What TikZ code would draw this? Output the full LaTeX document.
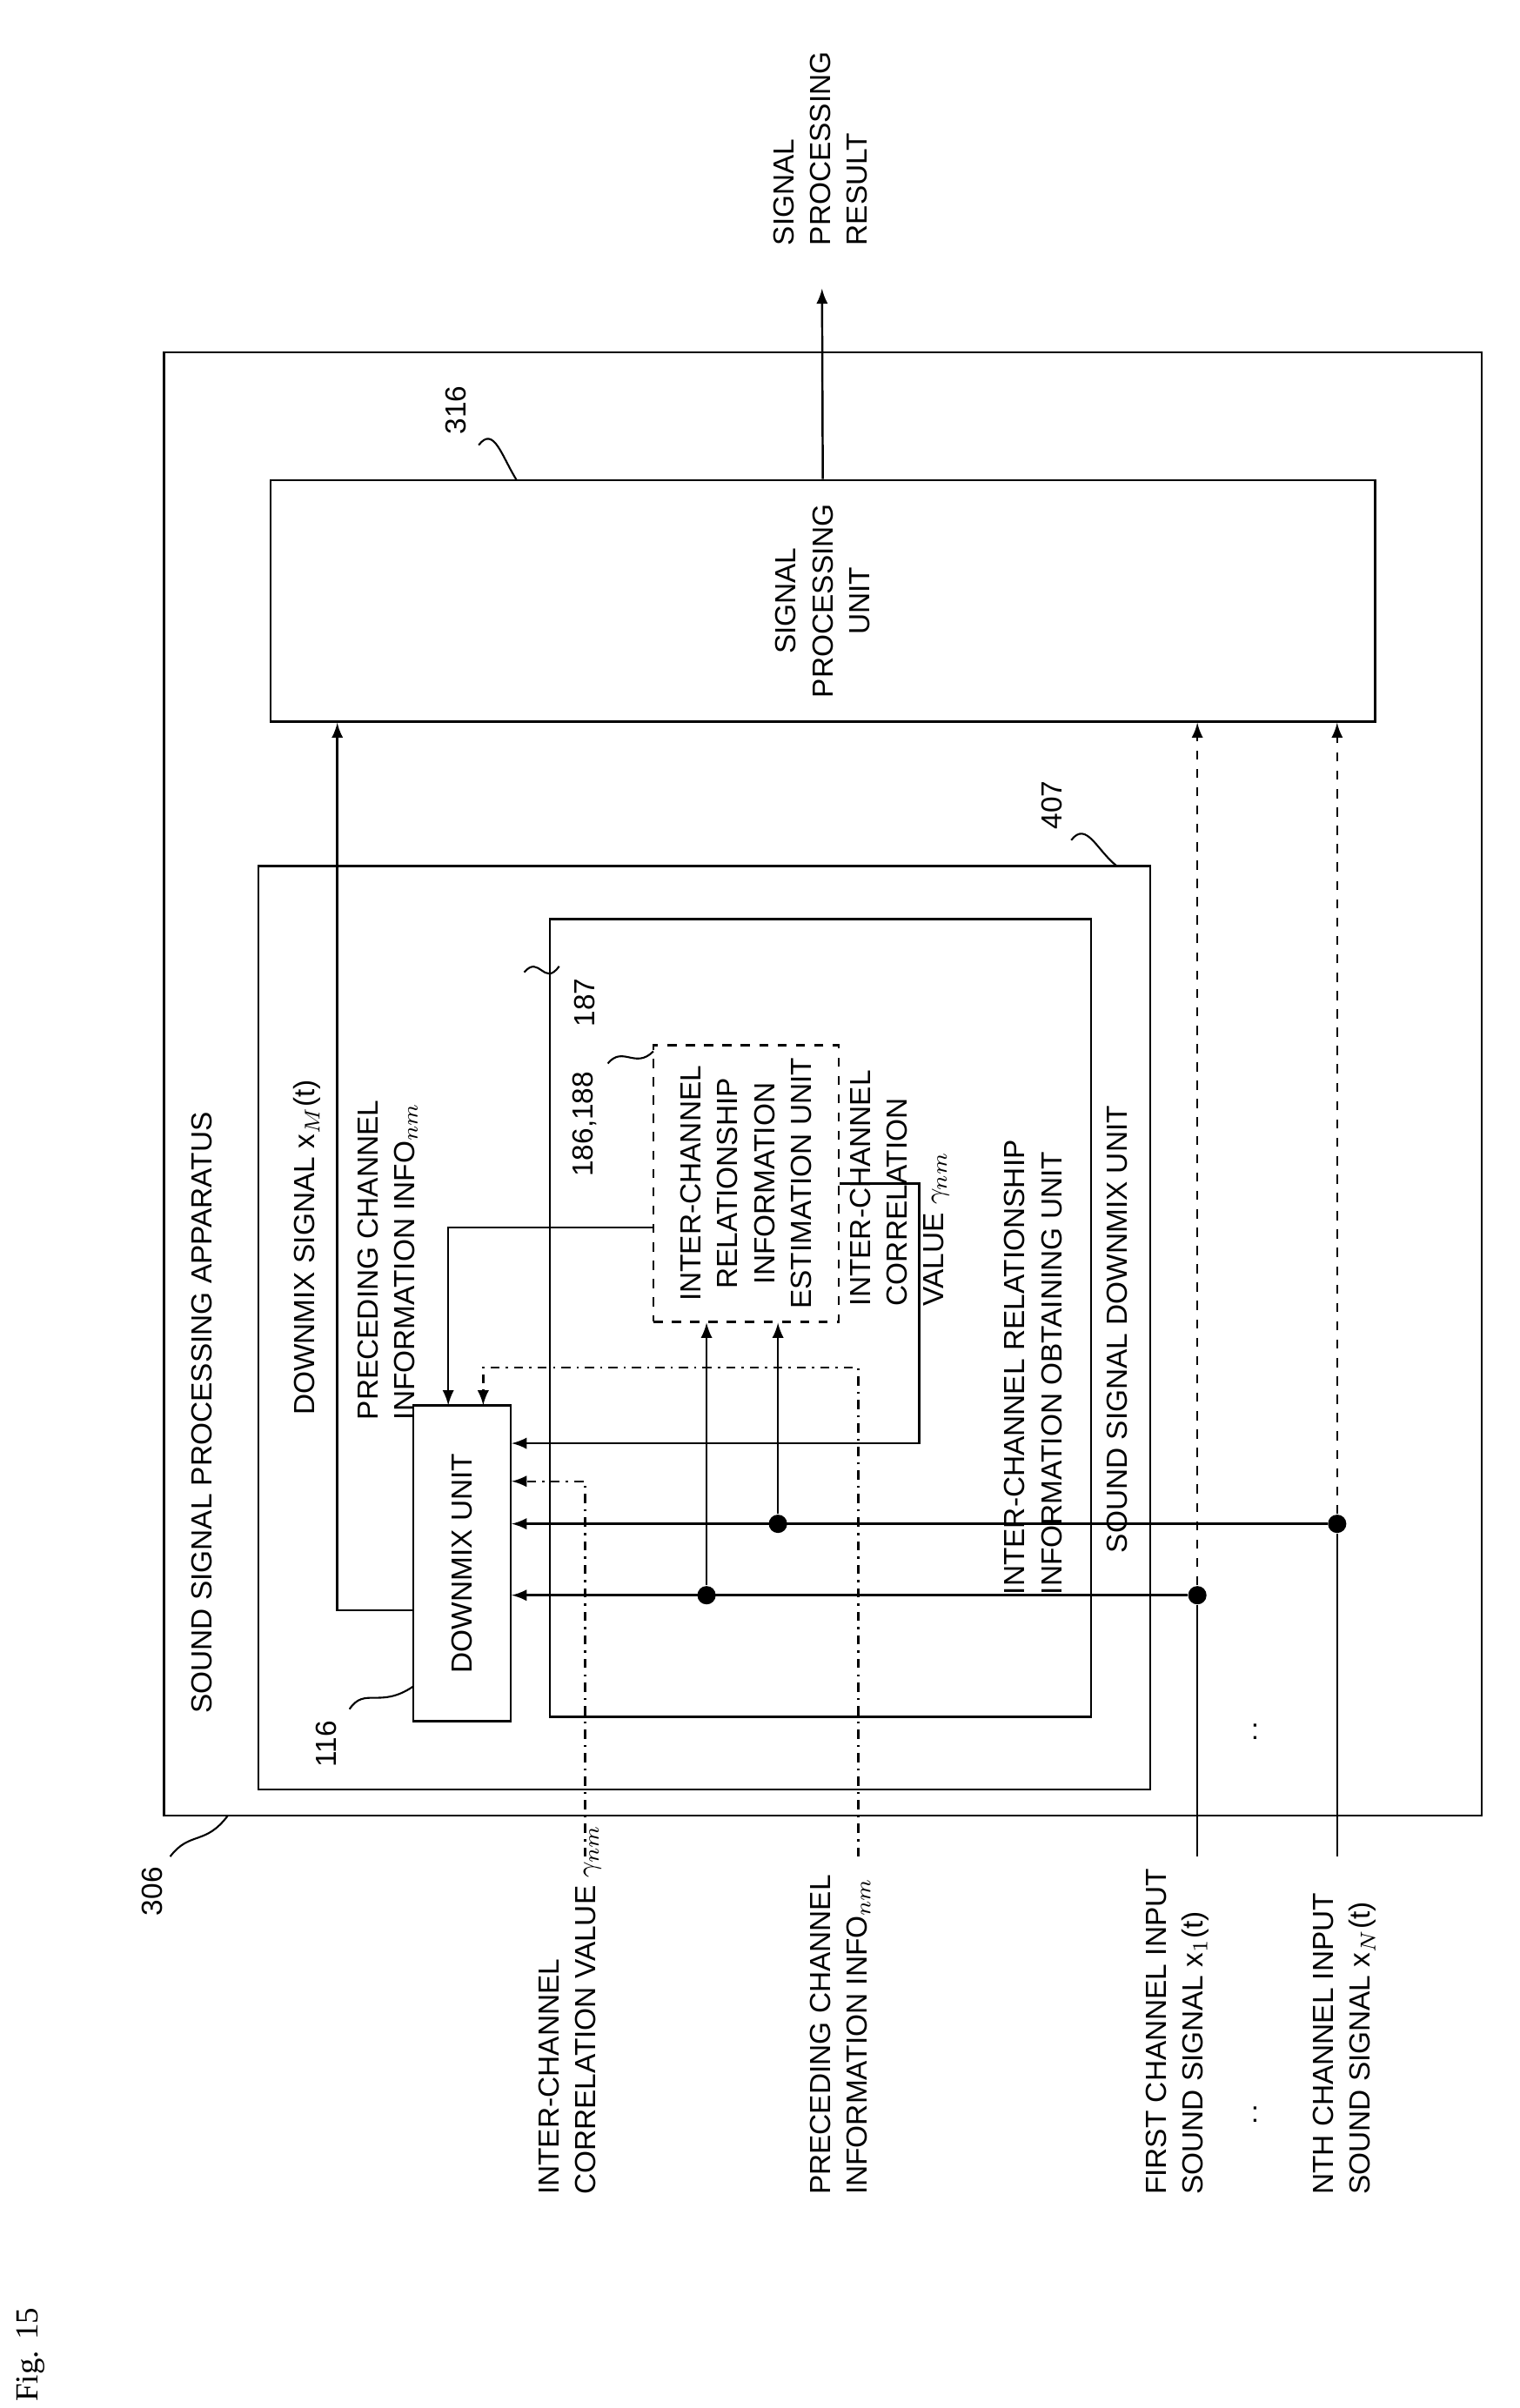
\documentclass[tikz,border=0pt]{standalone}
\usepackage{fontspec}
\setmainfont{Liberation Sans}
\newfontfamily\figfont{Liberation Serif}
\usetikzlibrary{fit}
\begin{document}
\begin{tikzpicture}[x=0.01746cm,y=-0.01746cm,>=latex,
  font=\fontsize{9.5}{12}\selectfont]
\tikzstyle{box}=[draw=black,inner sep=0pt,line width=0.7pt]
\tikzstyle{dbox}=[draw=black,dashed,inner sep=0pt,line width=0.7pt]
\tikzstyle{txt}=[rotate=90,inner sep=0pt,align=left]
\tikzstyle{jdot}=[circle,fill=black,minimum size=6pt,inner sep=0pt]
\tikzstyle{wire}=[line width=0.7pt]
\tikzstyle{lead}=[line width=0.6pt]
\useasboundingbox (0,0) rectangle (1000,1585);

% boxes
\node[box,fit={(108,232)(975,1195)}] (app) {};
\node[box,fit={(170,570)(757,1178)}] (mix) {};
\node[box,fit={(362,605)(718,1130)}] (obt) {};
\node[dbox,fit={(430,688)(552,870)}] (est) {};
\node[box,fit={(272,925)(336,1133)}] (dmx) {};
\node[box,fit={(178,316)(905,475)}] (sp) {};

% box texts
\node[txt,align=center] at (est.center) {INTER-CHANNEL\\RELATIONSHIP\\INFORMATION\\ESTIMATION UNIT};
\node[txt] at (dmx.center) {DOWNMIX UNIT};
\node[txt,align=center] at (sp.center) {SIGNAL\\PROCESSING\\UNIT};
\node[txt] at (133,930) {SOUND SIGNAL PROCESSING APPARATUS};
\node[txt] at (735,875) {SOUND SIGNAL DOWNMIX UNIT};
\node[txt] at (680,900) {INTER-CHANNEL RELATIONSHIP\\INFORMATION OBTAINING UNIT};
\node[txt,anchor=west] at (592,860) {INTER-CHANNEL\\CORRELATION\\VALUE $\gamma_{nm}$};
\node[txt,anchor=west] at (202,932) {DOWNMIX SIGNAL x$_M$(t)};
\node[txt,anchor=west] at (255,935) {PRECEDING CHANNEL\\INFORMATION INFO$_{nm}$};
\node[txt,anchor=west] at (540,162) {SIGNAL\\PROCESSING\\RESULT};

% outside labels
\node[txt,anchor=west] at (375,1445) {INTER-CHANNEL\\CORRELATION VALUE $\gamma_{nm}$};
\node[txt,anchor=west] at (553,1445) {PRECEDING CHANNEL\\INFORMATION INFO$_{nm}$};
\node[txt,anchor=west] at (775,1445) {FIRST CHANNEL INPUT\\SOUND SIGNAL x$_1$(t)};
\node[txt,anchor=west] at (885,1445) {NTH CHANNEL INPUT\\SOUND SIGNAL x$_N$(t)};
\node[inner sep=0pt] (vd1) at (826,1392) {:};
\node[inner sep=0pt] (vd2) at (826,1140) {:};
\node[txt,font=\figfont\fontsize{10.5}{12.5}\selectfont] (fig) at (20,1550) {Fig. 15};

% reference numerals
\node[txt] (n306) at (100,1245) {306};
\node[txt] (n407) at (692,530) {407};
\node[txt] (n316) at (300,270) {316};
\node[txt] (n116) at (215,1148) {116};
\node[txt] (n187) at (385,660) {187};
\node[txt] (n186) at (385,740) {186,188};
\draw[lead] (112,1222) .. controls (125,1205) and (135,1215) .. (150,1195);
\draw[lead] (705,553) .. controls (715,540) and (722,560) .. (735,570);
\draw[lead] (315,293) .. controls (325,280) and (330,300) .. (340,316);
\draw[lead] (230,1125) .. controls (240,1110) and (250,1125) .. (272,1110);
\draw[lead] (345,640) .. controls (355,628) and (358,650) .. (368,636);
\draw[lead] (400,700) .. controls (410,688) and (418,704) .. (430,692);

% junctions and inputs
\coordinate (in1) at (788,1222);
\coordinate (inN) at (880,1222);
\coordinate (inG) at (385,1222);
\coordinate (inP) at (565,1222);
\coordinate (out) at (541,190);
\node[jdot] (j1) at (788,1050) {};
\node[jdot] (jN) at (880,1003) {};
\node[jdot] (k1) at (465,1050) {};
\node[jdot] (kN) at (512,1003) {};

% connectors
\draw[wire] (in1) -- (j1);
\draw[wire] (inN) -- (jN);
\draw[wire,dashed,->] (j1) -- (j1 |- sp.south);
\draw[wire,dashed,->] (jN) -- (jN |- sp.south);
\draw[wire,->] (j1) -- (dmx.east |- j1);
\draw[wire,->] (jN) -- (dmx.east |- jN);
\draw[wire,->] (k1) -- (k1 |- est.south);
\draw[wire,->] (kN) -- (kN |- est.south);
\draw[wire,->] (est.east) -- (605,779) -- (605,950) -- (dmx.east |- 0,950);
\draw[wire,dash dot,->] (inG) |- (dmx.east |- 0,975);
\draw[wire,dash dot,->] (inP) -- (565,900) -| (318,925);
\draw[wire,->] (est.west |- 0,808) -| (295,925);
\draw[wire,->] (dmx.west |- 0,1060) -| (sp.south -| 222,0);
\draw[wire,->] (sp.north) -- (out);
\end{tikzpicture}
\end{document}
